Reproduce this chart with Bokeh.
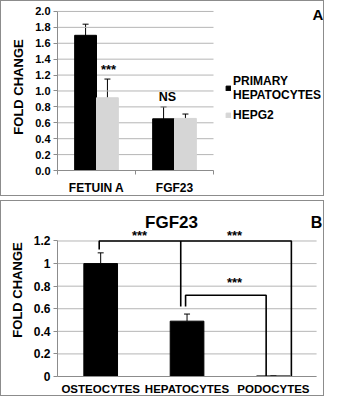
from bokeh.plotting import figure
from bokeh.models import (Range1d, FixedTicker, NumeralTickFormatter, Whisker, TeeHead,
                          ColumnDataSource, Label, Legend, LegendItem)
from bokeh.layouts import column
from bokeh.embed import file_html
from bokeh.resources import INLINE

FONT = "Liberation Sans"

# ---------------- Panel A data ----------------
a_categories = ["FETUIN A", "FGF23"]
a_series = ["PRIMARY\nHEPATOCYTES", "HEPG2"]
a_primary = [1.70, 0.65]
a_primary_err = [0.14, 0.15]
a_hepg2 = [0.915, 0.655]
a_hepg2_err = [0.235, 0.055]
a_yticks = [0.0, 0.2, 0.4, 0.6, 0.8, 1.0, 1.2, 1.4, 1.6, 1.8, 2.0]
a_mark_text = ["***", "NS"]
a_mark_x = [0.655, 1.41]
a_mark_y = [1.27, 0.92]
a_mark_size = ["13px", "12.5px"]

# ---------------- Panel B data ----------------
b_title = "FGF23"
b_categories = ["OSTEOCYTES", "HEPATOCYTES", "PODOCYTES"]
b_values = [1.0, 0.49, 0.005]
b_err = [0.095, 0.063, 0.0]
b_yticks = [0.0, 0.2, 0.4, 0.6, 0.8, 1.0, 1.2]
# significance brackets (x in category units, y in fold change)
b_brackets_x = [[0.483, 0.483, 2.708, 2.708],
                [1.427, 1.427],
                [1.483, 1.483, 2.416, 2.416]]
b_brackets_y = [[1.125, 1.2, 1.2, 0.0],
                [1.2, 0.62],
                [0.62, 0.72, 0.72, 0.0]]
b_mark_text = ["***", "***", "***"]
b_mark_x = [0.95, 2.05, 2.05]
b_mark_y = [1.25, 1.25, 0.83]

GRID = "#b5b5b5"
AXIS = "#8c8c8c"
GRAYBAR = "#d6d6d6"
TEXT = "black"


def style_axes(p, tick_size, xlabel_size, ncat, yticks):
    p.outline_line_color = None
    p.xgrid.visible = False
    p.ygrid.visible = False
    # grid lines limited to the category area
    p.segment(x0=[0] * len(yticks), x1=[ncat] * len(yticks), y0=yticks, y1=yticks,
              line_color=GRID, line_width=1)
    for ax in (p.xaxis[0], p.yaxis[0]):
        ax.axis_line_color = AXIS
        ax.major_tick_line_color = AXIS
        ax.minor_tick_line_color = AXIS
        ax.major_label_text_font = FONT
        ax.major_label_text_font_style = "bold"
        ax.major_label_text_color = TEXT
        ax.axis_label_text_font = FONT
        ax.axis_label_text_font_style = "bold"
        ax.axis_label_text_color = TEXT
    p.xaxis.bounds = (0, ncat)
    p.yaxis.bounds = (yticks[0], yticks[-1])
    p.yaxis.ticker = FixedTicker(ticks=yticks)
    p.yaxis.major_label_text_font_size = tick_size
    p.xaxis.major_label_text_font_size = xlabel_size
    p.yaxis.major_tick_in = 0
    p.yaxis.major_tick_out = 4
    p.yaxis.minor_tick_out = 0
    p.yaxis.minor_tick_in = 0
    p.yaxis.major_label_standoff = 3
    p.yaxis.axis_label = "FOLD CHANGE"
    p.yaxis.axis_label_text_font_size = "13px"
    p.yaxis.axis_label_standoff = 6
    p.xaxis.major_tick_in = 0
    p.xaxis.major_tick_out = 0
    p.xaxis.minor_tick_in = 0
    p.xaxis.minor_tick_out = 4
    p.xaxis.major_label_standoff = 6


def add_label(p, x, y, text, size):
    p.add_layout(Label(x=x, y=y, text=text, text_align="center", text_baseline="middle",
                       text_font=FONT, text_font_style="bold", text_font_size=size,
                       text_color=TEXT))


# ================= Panel A =================
pa = figure(width=324, height=196, x_range=Range1d(0, 3.41), y_range=Range1d(0, 2.10),
            output_backend="svg", toolbar_location=None,
            min_border_left=56, min_border_right=2, min_border_top=2, min_border_bottom=10,
            styles={"border": "1px solid #8c8c8c"})
style_axes(pa, "11px", "12px", len(a_categories), a_yticks)
a_centers = [i + 0.5 for i in range(len(a_categories))]
pa.xaxis.ticker = FixedTicker(ticks=a_centers, minor_ticks=[float(i) for i in range(len(a_categories) + 1)])
pa.xaxis.major_label_overrides = {c: n for c, n in zip(a_centers, a_categories)}
pa.yaxis.formatter = NumeralTickFormatter(format="0.0")

bw = 0.28
src_p = ColumnDataSource(dict(x=[c - bw / 2 for c in a_centers], top=a_primary,
                              lower=[v - e for v, e in zip(a_primary, a_primary_err)],
                              upper=[v + e for v, e in zip(a_primary, a_primary_err)]))
src_h = ColumnDataSource(dict(x=[c + bw / 2 for c in a_centers], top=a_hepg2,
                              lower=[v - e for v, e in zip(a_hepg2, a_hepg2_err)],
                              upper=[v + e for v, e in zip(a_hepg2, a_hepg2_err)]))
r1 = pa.vbar(x="x", top="top", width=bw, source=src_p, fill_color="black", line_color="black")
r2 = pa.vbar(x="x", top="top", width=bw, source=src_h, fill_color=GRAYBAR, line_color=GRAYBAR)
for s in (src_p, src_h):
    pa.add_layout(Whisker(base="x", upper="upper", lower="lower", source=s,
                          line_color="black", line_width=1,
                          upper_head=TeeHead(size=6, line_color="black", line_width=1),
                          lower_head=TeeHead(size=6, line_color="black", line_width=1)))
for t, x, y, s in zip(a_mark_text, a_mark_x, a_mark_y, a_mark_size):
    add_label(pa, x, y, t, s)
add_label(pa, 3.34, 1.96, "A", "15px")

legend = Legend(items=[LegendItem(label=a_series[0], renderers=[r1]),
                       LegendItem(label=a_series[1], renderers=[r2])],
                location=(168, 48), padding=0, margin=0, spacing=6,
                glyph_width=6, glyph_height=6, label_standoff=2,
                label_text_font=FONT, label_text_font_style="bold", label_text_font_size="12px",
                label_text_color=TEXT, border_line_color=None, background_fill_alpha=0)
pa.add_layout(legend)

# ================= Panel B =================
pb = figure(width=324, height=196, x_range=Range1d(0, 3.08), y_range=Range1d(0, 1.532),
            output_backend="svg", toolbar_location=None,
            min_border_left=56, min_border_right=2, min_border_top=2, min_border_bottom=10,
            styles={"border": "1px solid #8c8c8c"})
style_axes(pb, "12px", "11.5px", len(b_categories), b_yticks)
b_centers = [i + 0.5 for i in range(len(b_categories))]
pb.xaxis.ticker = FixedTicker(ticks=b_centers)
pb.xaxis.major_label_overrides = {c: n for c, n in zip(b_centers, b_categories)}
pb.xaxis.minor_tick_out = 0
pb.yaxis.formatter = NumeralTickFormatter(format="0.[0]")

src_b = ColumnDataSource(dict(x=b_centers, top=b_values,
                              lower=b_values,
                              upper=[v + e for v, e in zip(b_values, b_err)]))
pb.vbar(x="x", top="top", width=0.39, source=src_b, fill_color="black", line_color="black")
pb.add_layout(Whisker(base="x", upper="upper", lower="lower", source=src_b,
                      line_color="black", line_width=1,
                      upper_head=TeeHead(size=6, line_color="black", line_width=1),
                      lower_head=None))
pb.multi_line(xs=b_brackets_x, ys=b_brackets_y, line_color="black", line_width=1.6)
for t, x, y in zip(b_mark_text, b_mark_x, b_mark_y):
    add_label(pb, x, y, t, "13px")
add_label(pb, 1.32, 1.365, b_title, "17px")
add_label(pb, 3.0, 1.365, "B", "16px")

layout = column(pa, pb, spacing=4)
open("out.html", "w").write(file_html(layout, INLINE))
